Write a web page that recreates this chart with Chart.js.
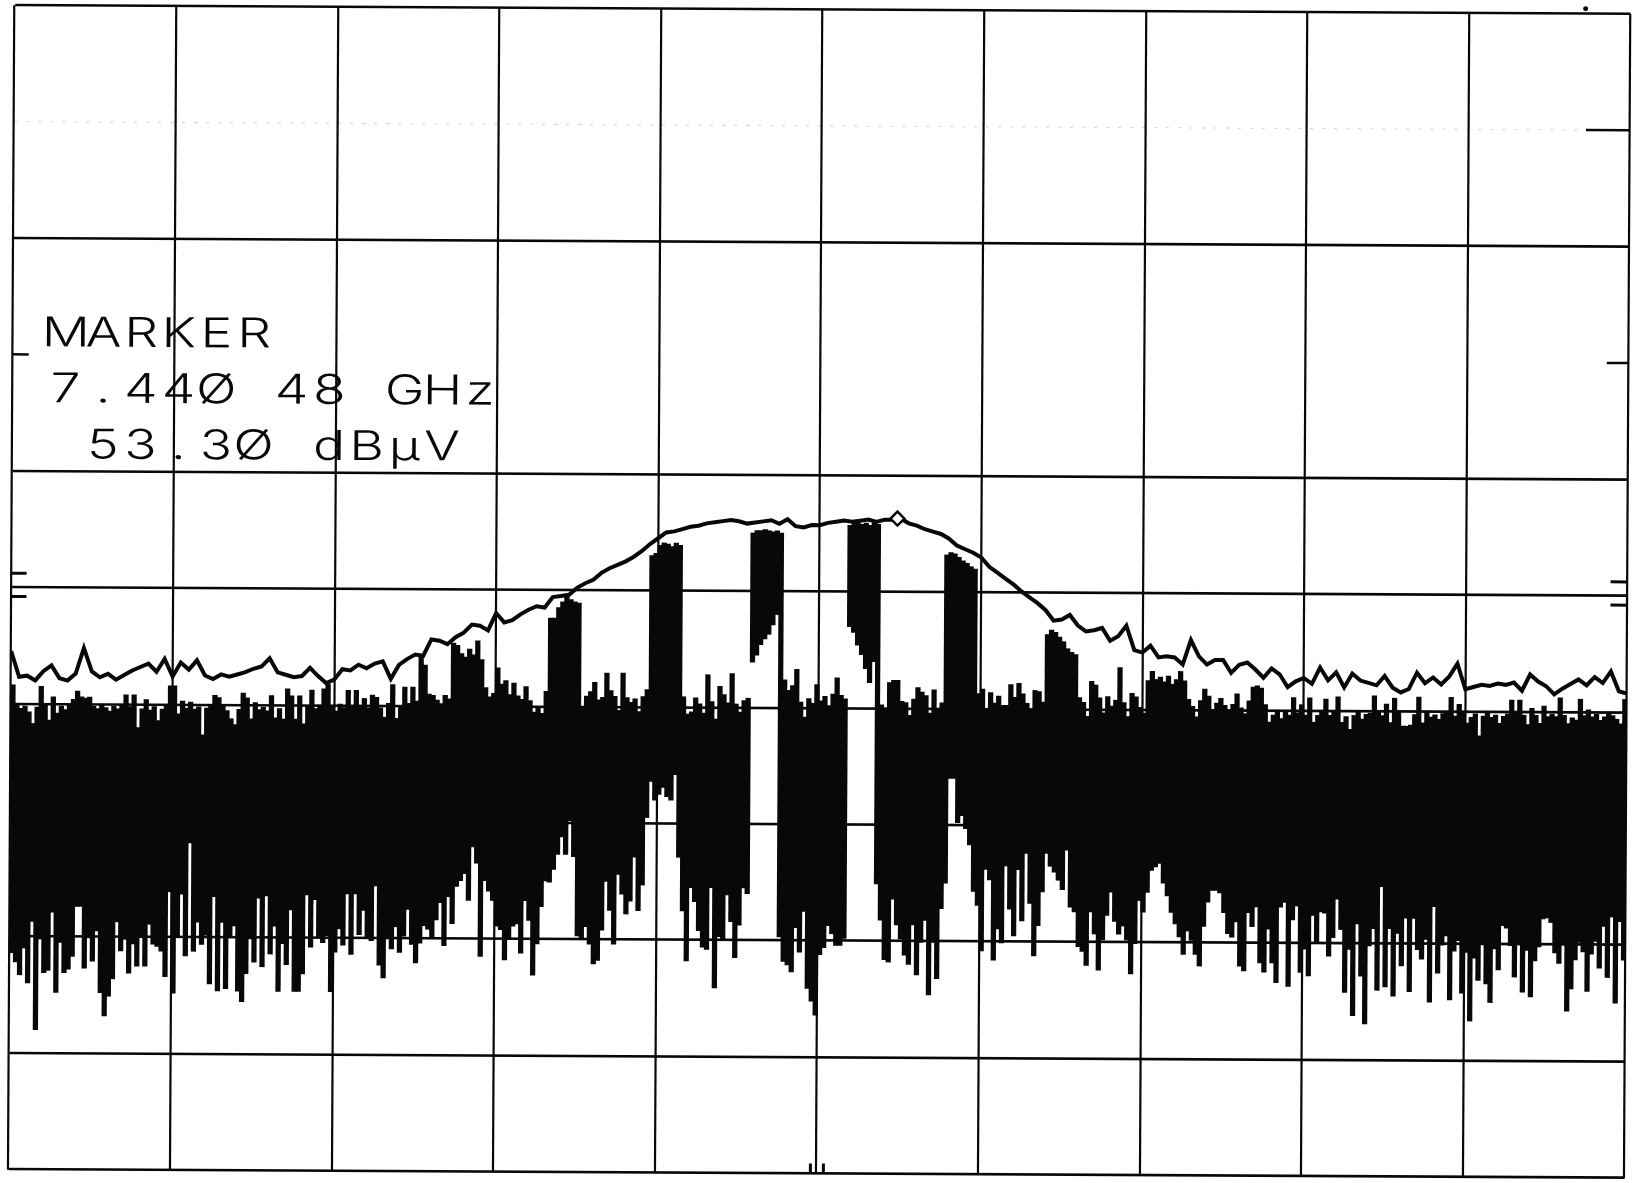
<!DOCTYPE html>
<html>
<head>
<meta charset="utf-8">
<title>Spectrum analyzer plot - 7.440 GHz</title>
<script src="https://cdn.jsdelivr.net/npm/chart.js@4.4.1/dist/chart.umd.min.js"></script>
<style>
  html, body { margin: 0; padding: 0; background: #fff; }
  canvas { display: block; }
</style>
</head>
<body>
<canvas id="plot" width="1637" height="1183"></canvas>
<script>
// Sweep: 7435 - 7445 MHz, 1 MHz/div; reference level 97 dBuV, 10 dB/div
const SWEEP_START_MHZ = 7435;
const SWEEP_STOP_MHZ = 7445;
const X_GRID = [7435, 7436, 7437, 7438, 7439, 7440, 7441, 7442, 7443, 7444, 7445];
const Y_GRID = [-3, 7, 17, 27, 37, 47, 57, 67, 77, 87, 97];
const HIDDEN_ROWS = [67, 87];

// Max-hold trace, 201 points (50 kHz apart), dBuV
const MAX_HOLD = [
  41.5,39.3,39.4,39.0,39.8,40.3,39.2,39.0,39.6,41.8,
  39.8,39.3,39.6,39.1,39.5,39.9,40.2,40.5,39.8,40.9,
  39.4,40.6,40.0,40.8,39.5,39.2,39.6,39.4,39.6,39.8,
  40.1,40.3,41.0,39.8,39.6,39.4,39.5,40.2,39.5,38.9,
  39.2,40.1,40.0,40.5,40.2,40.6,40.8,39.3,40.5,41.0,
  41.4,
  41.3,42.7,42.6,42.3,42.9,43.3,44.0,43.9,43.5,45.0,
  44.2,44.4,44.9,45.3,45.6,45.5,46.4,46.5,46.6,47.2,
  47.6,47.9,48.5,48.9,49.2,49.5,49.9,50.4,51.0,51.5,
  52.0,52.1,52.3,52.5,52.6,52.8,52.9,53.0,53.1,53.0,
  52.8,52.9,53.0,53.1,52.8,53.2,52.6,52.5,52.7,52.7,
  52.9,53.0,53.1,
  53.0,53.1,53.2,53.0,53.2,53.2,53.3,52.9,52.7,52.4,
  52.2,52.0,51.6,51.0,50.7,50.4,50.0,49.2,48.7,48.2,
  47.7,47.1,46.6,46.1,45.5,44.6,44.7,45.1,44.2,43.7,
  43.8,44.0,42.9,43.3,44.2,42.1,41.9,42.5,41.5,41.6,
  41.5,40.9,43.0,41.6,40.9,41.3,41.3,40.2,40.9,41.1,
  40.5,39.8,
  40.6,40.1,39.0,39.5,39.8,39.3,40.7,39.6,40.3,39.0,
  40.2,39.6,39.4,39.2,40.0,39.0,38.6,38.9,40.3,39.4,
  39.9,39.3,40.0,41.1,38.9,39.1,39.3,39.2,39.4,39.3,
  39.5,38.8,40.2,39.6,39.2,38.5,39.0,39.4,39.8,39.3,
  40.0,39.5,40.5,38.8,38.6
];

// Clear-write sweep, 400 bins of 25 kHz: upper and lower excursion per bin, dBuV
const SWEEP_HIGH = [
  38.6,37.0,36.6,36.8,36.3,35.3,36.7,38.5,36.9,35.6,
  37.6,36.2,36.8,36.5,36.9,37.4,38.1,37.6,37.5,37.6,
  36.8,36.6,36.9,36.7,36.4,36.8,36.6,36.9,37.8,36.8,
  37.8,35.0,36.6,37.4,36.5,36.8,35.6,36.6,36.9,38.6,
  38.6,36.2,37.3,36.7,37.2,36.6,36.8,34.4,36.7,37.0,
  37.8,37.6,36.9,36.5,35.8,35.3,36.6,38.0,37.6,35.8,
  37.2,36.6,36.8,36.5,37.8,35.9,36.7,35.8,38.4,37.8,
  35.8,37.8,35.4,36.9,38.3,36.7,37.0,38.4,38.8,36.9,
  36.5,37.1,36.8,38.3,37.0,38.3,36.9,37.6,36.8,37.9,
  37.7,36.8,36.0,37.2,38.8,35.9,37.0,38.6,37.2,38.6,
  37.4,
  41.3,40.5,38.0,37.9,37.5,37.2,37.9,37.6,42.4,42.2,
  41.5,41.2,41.9,41.4,42.6,41.0,38.6,37.8,38.1,40.3,
  38.9,39.2,38.0,39.0,37.9,37.6,38.7,37.5,36.5,36.9,
  36.4,38.3,44.6,44.6,45.5,46.0,46.6,46.2,46.0,45.9,
  37.0,37.9,38.3,39.1,37.6,37.8,39.9,38.4,37.9,36.7,
  39.9,37.8,37.4,37.7,36.6,37.9,38.5,50.0,50.2,50.9,
  51.1,51.0,50.8,51.1,50.9,37.9,36.4,36.6,37.8,37.3,
  36.5,39.8,37.5,36.0,38.8,38.1,37.4,39.9,37.3,36.6,
  37.6,37.8,52.0,52.2,52.2,52.3,52.2,52.1,52.2,52.0,
  39.4,38.5,38.9,40.3,37.5,36.2,37.8,37.4,39.0,37.6,
  38.0,37.2,38.2,39.6,
  38.1,37.8,52.7,52.9,52.9,52.8,52.9,52.7,52.9,52.8,
  37.3,37.0,39.2,39.4,39.4,37.6,37.5,36.4,37.8,38.8,
  38.4,38.1,36.6,38.6,37.0,37.5,50.2,50.4,50.3,50.0,
  49.7,49.5,49.2,49.0,38.3,38.7,37.0,38.4,37.5,38.1,
  37.3,37.3,39.1,38.0,39.2,38.3,37.5,36.9,38.6,38.5,
  37.6,43.4,43.8,43.6,43.2,42.8,42.2,41.9,41.7,38.0,
  37.6,36.4,39.4,39.1,38.0,36.7,38.1,37.3,37.8,40.6,
  37.6,36.4,38.4,38.1,37.2,36.7,39.5,40.3,39.6,39.8,
  39.4,39.9,39.2,39.6,40.3,39.5,37.9,37.3,36.4,37.8,
  38.8,38.2,37.0,37.6,38.0,37.4,37.0,37.5,38.4,37.2,
  36.7,37.8,39.0,39.1,
  38.9,37.5,36.0,36.6,36.9,36.3,36.9,36.6,38.1,36.8,
  37.5,36.6,38.1,36.0,36.6,37.0,38.0,36.6,37.0,38.2,
  36.0,36.5,35.4,36.6,36.9,36.3,36.7,36.8,38.3,37.0,
  36.6,37.6,36.0,38.1,37.0,35.7,35.7,35.8,36.7,38.2,
  36.0,36.9,36.5,36.7,36.3,36.8,37.0,38.2,36.6,37.6,
  36.9,36.0,36.5,36.8,34.9,36.6,36.9,36.5,36.7,36.0,
  36.6,36.8,38.0,36.9,38.0,36.7,35.9,37.3,36.7,36.0,
  37.5,36.6,36.8,36.6,38.2,36.7,36.0,36.5,36.3,38.1,
  36.7,37.2,36.6,36.8,36.3,36.6,37.0,36.7,36.4,36.0,
  38.1
];

const SWEEP_LOW = [
  15.6,14.8,13.7,16.0,13.0,18.3,9.0,16.8,13.9,14.1,
  19.1,12.2,16.5,13.9,14.2,15.3,19.6,19.6,14.3,16.9,
  14.9,17.5,12.2,10.2,11.9,13.4,18.3,15.8,16.8,13.9,
  16.4,14.5,17.0,14.5,18.1,16.4,16.2,15.8,13.6,20.9,
  12.2,17.0,20.7,15.4,25.1,15.8,18.3,16.4,17.2,13.0,
  20.5,12.4,18.3,12.6,17.1,18.0,12.4,11.5,13.9,16.9,
  14.9,20.4,14.5,20.6,15.6,18.0,12.4,16.5,14.7,19.4,
  12.4,12.4,13.9,20.7,16.2,20.3,17.0,16.6,17.2,12.4,
  15.8,17.8,16.4,20.8,15.6,20.8,17.3,19.4,17.0,16.8,
  21.5,14.7,13.6,17.0,16.1,18.0,15.8,17.2,19.5,16.5,
  14.9,
  16.6,18.1,17.8,17.0,18.6,20.1,16.4,20.6,18.3,21.5,
  22.0,22.6,20.3,24.9,23.5,15.5,22.0,21.1,20.3,18.1,
  17.8,15.2,17.0,18.1,18.3,15.8,20.3,18.6,13.9,16.6,
  19.8,22.0,21.9,23.0,24.3,25.8,24.3,27.2,24.1,17.3,
  17.1,18.1,16.6,14.9,15.2,17.8,22.0,19.5,16.6,22.6,
  20.9,19.2,20.3,24.1,19.5,21.7,27.5,30.6,29.0,29.5,
  30.1,29.3,29.0,31.2,24.1,19.5,15.2,21.5,20.3,17.8,
  16.4,16.2,21.5,12.9,17.3,17.0,20.9,18.6,15.5,18.3,
  21.5,21.0,40.9,41.5,42.4,42.9,43.3,44.1,45.0,17.3,
  15.2,14.9,14.3,18.1,16.0,19.5,12.9,11.8,10.6,15.8,
  16.4,18.3,17.6,16.6,
  16.6,17.2,44.0,43.5,42.4,41.6,40.4,39.2,41.0,21.9,
  18.8,15.4,15.2,20.6,18.4,17.2,15.8,15.0,18.4,14.1,
  16.9,18.8,12.4,16.9,13.8,19.8,22.0,31.0,31.0,27.2,
  27.8,26.7,25.3,21.3,20.1,16.2,23.2,22.3,15.4,18.1,
  16.9,23.5,19.8,17.5,23.2,18.8,24.6,20.3,15.8,18.4,
  21.3,24.6,23.5,23.0,22.3,21.5,24.9,20.0,19.6,16.6,
  16.2,15.0,19.6,17.7,14.6,17.2,19.3,21.3,18.8,17.7,
  18.4,17.2,14.3,16.9,20.6,19.6,21.3,23.2,23.5,23.8,
  22.1,21.0,19.6,18.6,17.5,16.0,18.0,17.2,16.0,15.0,
  18.4,20.5,21.5,21.5,21.3,19.6,17.8,17.5,18.8,15.0,
  14.6,19.6,18.4,20.1,
  15.3,14.5,18.2,15.3,13.6,20.1,20.5,13.3,19.0,20.2,
  14.5,16.5,14.2,19.4,17.0,19.7,19.6,15.9,17.5,20.8,
  18.2,12.8,16.5,10.8,18.7,14.2,10.1,16.8,18.3,13.0,
  21.9,13.3,18.3,12.5,17.9,15.1,19.2,12.9,19.2,16.5,
  15.7,17.4,12.0,20.2,14.5,16.9,17.7,12.2,16.4,17.3,
  12.8,16.3,10.4,15.8,13.9,17.0,13.6,12.0,16.6,14.8,
  18.6,18.4,16.9,14.2,17.0,12.9,16.5,12.5,15.6,16.8,
  19.2,19.3,18.9,16.3,15.4,17.0,11.3,13.2,15.7,17.2,
  16.4,13.0,16.2,17.3,15.0,18.6,14.2,19.4,12.0,19.0,
  15.7
];

// Marker readout
const MARKER_FREQ_MHZ = 7440.48;
const MARKER_LEVEL = 53.30;
const MARKER_LINES = ['MARKER', '7.44\u00D8 48 GHz', ' 53.3\u00D8 dB\u03BCV'];

// Display-line marks either side of the 47 dBuV line
const LIMIT_MARKS = [48.2, 46.2];

const TRACE_STEP = (SWEEP_STOP_MHZ - SWEEP_START_MHZ) / (MAX_HOLD.length - 1);
const BIN_STEP = (SWEEP_STOP_MHZ - SWEEP_START_MHZ) / SWEEP_HIGH.length;

const maxHoldPoints = MAX_HOLD.map((v, i) => ({ x: SWEEP_START_MHZ + i * TRACE_STEP, y: v }));
const sweepBars = SWEEP_HIGH.map((hi, i) => ({
  x: SWEEP_START_MHZ + (i + 0.5) * BIN_STEP,
  y: [SWEEP_LOW[i], hi]
}));

const INK = '#080808';
const SKEW = 0.0054; // plotter sheet sits slightly turned

const sheetPlugin = {
  id: 'sheet',
  beforeDraw(chart) {
    const ctx = chart.ctx;
    const w = chart.width, h = chart.height;
    ctx.save();
    ctx.fillStyle = '#fff';
    ctx.fillRect(0, 0, w, h);
    ctx.translate(w / 2, h / 2);
    ctx.rotate(SKEW);
    ctx.translate(-w / 2, -h / 2);
  },
  afterDraw(chart) {
    const ctx = chart.ctx;
    const a = chart.chartArea;
    const xs = chart.scales.x, ys = chart.scales.y;

    ctx.strokeStyle = INK;
    ctx.lineCap = 'butt';

    // faint dotted remains of the 87 dB row
    ctx.save();
    ctx.strokeStyle = 'rgba(0,0,0,0.18)';
    ctx.lineWidth = 1;
    ctx.setLineDash([3, 9]);
    const y87 = ys.getPixelForValue(87);
    ctx.beginPath(); ctx.moveTo(a.left, y87); ctx.lineTo(a.right - 45, y87); ctx.stroke();
    ctx.restore();

    // short ticks where the missing rows meet the frame
    ctx.lineWidth = 2.5;
    const y67 = ys.getPixelForValue(67);
    ctx.beginPath();
    ctx.moveTo(a.right - 44, y87); ctx.lineTo(a.right, y87);
    ctx.moveTo(a.right - 22, y67); ctx.lineTo(a.right, y67);
    ctx.moveTo(a.left, y67); ctx.lineTo(a.left + 16, y67);
    ctx.stroke();

    // display-line marks at both edges
    ctx.lineWidth = 3;
    ctx.beginPath();
    LIMIT_MARKS.forEach(v => {
      const yy = ys.getPixelForValue(v);
      ctx.moveTo(a.left, yy); ctx.lineTo(a.left + 15, yy);
      ctx.moveTo(a.right - 17, yy); ctx.lineTo(a.right, yy);
    });
    ctx.stroke();

    // small pen marks at the bottom beside the centre line
    const xc = xs.getPixelForValue(7440);
    ctx.lineWidth = 3;
    ctx.beginPath();
    ctx.moveTo(xc - 6, a.bottom - 10); ctx.lineTo(xc - 6, a.bottom);
    ctx.moveTo(xc + 7, a.bottom - 10); ctx.lineTo(xc + 7, a.bottom);
    ctx.stroke();

    // pen dot above the top frame, right side
    ctx.fillStyle = INK;
    ctx.beginPath();
    ctx.arc(a.right - 45, a.top - 5, 2.5, 0, Math.PI * 2);
    ctx.fill();

    // marker readout, fixed-pitch plotter lettering (glyphs widened)
    ctx.font = '300 41px Inter, "Open Sans", "DejaVu Sans", sans-serif';
    ctx.textAlign = 'center';
    ctx.textBaseline = 'alphabetic';
    const pitch = 37.7;
    const x0 = a.left + 34;
    const y0 = a.top + 341;
    MARKER_LINES.forEach((line, r) => {
      [...line].forEach((ch, k) => {
        if (ch === ' ') return;
        ctx.save();
        ctx.translate(x0 + k * pitch + pitch / 2, y0 + r * 56);
        ctx.scale(1.3, 1);
        ctx.fillText(ch, 0, 0);
        ctx.restore();
      });
    });

    ctx.restore();
  }
};

new Chart(document.getElementById('plot'), {
  type: 'bar',
  data: {
    datasets: [
      {
        type: 'scatter',
        label: 'Marker',
        data: [{ x: MARKER_FREQ_MHZ, y: MARKER_LEVEL }],
        pointStyle: 'rectRot',
        pointRadius: 7,
        pointBorderWidth: 2.5,
        borderColor: INK,
        backgroundColor: '#fff',
        order: 0
      },
      {
        type: 'line',
        label: 'Max hold',
        data: maxHoldPoints,
        borderColor: INK,
        borderWidth: 4,
        borderJoinStyle: 'miter',
        pointRadius: 0,
        tension: 0,
        fill: false,
        order: 1
      },
      {
        type: 'bar',
        label: 'Sweep',
        data: sweepBars,
        backgroundColor: INK,
        borderWidth: 0,
        borderSkipped: false,
        barThickness: 4.6,
        order: 2
      }
    ]
  },
  options: {
    responsive: false,
    devicePixelRatio: 1,
    animation: false,
    events: [],
    layout: { padding: { left: 11.5, right: 8.5, top: 7.5, bottom: 2 } },
    plugins: {
      legend: { display: false },
      tooltip: { enabled: false },
      title: { display: false }
    },
    scales: {
      x: {
        type: 'linear',
        min: SWEEP_START_MHZ,
        max: SWEEP_STOP_MHZ,
        offset: false,
        afterBuildTicks: s => { s.ticks = X_GRID.map(v => ({ value: v })); },
        ticks: { display: false },
        border: { display: false },
        grid: {
          offset: false,
          drawTicks: false,
          color: INK,
          lineWidth: 2.2
        }
      },
      y: {
        type: 'linear',
        min: Y_GRID[0],
        max: Y_GRID[Y_GRID.length - 1],
        afterBuildTicks: s => { s.ticks = Y_GRID.map(v => ({ value: v })); },
        ticks: { display: false },
        border: { display: false },
        grid: {
          offset: false,
          drawTicks: false,
          color: ctx => (ctx.tick && HIDDEN_ROWS.includes(ctx.tick.value)) ? 'rgba(0,0,0,0)' : INK,
          lineWidth: 2.6
        }
      }
    }
  },
  plugins: [sheetPlugin]
});
</script>
</body>
</html>
